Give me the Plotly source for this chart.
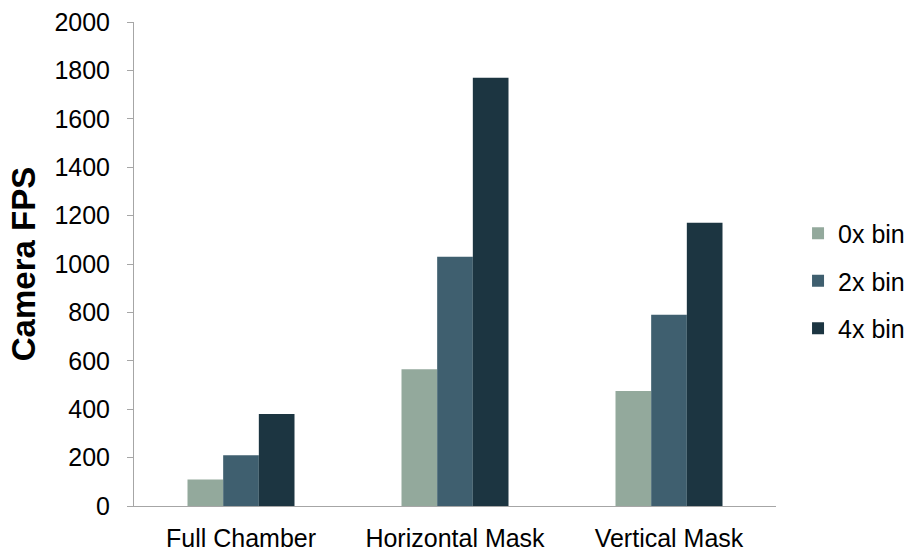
import plotly.graph_objects as go

categories = ["Full Chamber", "Horizontal Mask", "Vertical Mask"]
series_names = ["0x bin", "2x bin", "4x bin"]
bin0 = [110, 565, 475]
bin2 = [210, 1030, 790]
bin4 = [380, 1770, 1170]
colors = ["#93a99c", "#3f5f6f", "#1c3541"]
y_ticks = [0, 200, 400, 600, 800, 1000, 1200, 1400, 1600, 1800, 2000]

fig = go.Figure()
for name, vals, col in zip(series_names, [bin0, bin2, bin4], colors):
    fig.add_trace(go.Bar(
        x=categories, y=vals, name=name, legendgroup=name,
        marker=dict(color=col, line=dict(width=0)),
    ))

font_family = "Liberation Sans, Arial, sans-serif"
fig.update_layout(
    width=911, height=551,
    barmode="group", bargap=0.5, bargroupgap=0,
    plot_bgcolor="white", paper_bgcolor="white",
    margin=dict(l=134, r=135, t=22, b=45, autoexpand=False),
    font=dict(family=font_family, size=25, color="#000000"),
    showlegend=True,
    legend=dict(
        xref="container", yref="container",
        x=0.876, y=0.49, xanchor="left", yanchor="middle",
        font=dict(size=25, color="#000000"),
        traceorder="grouped", tracegroupgap=12,
        bgcolor="rgba(0,0,0,0)",
    ),
    xaxis=dict(
        showline=True, linecolor="#a6a6a6", linewidth=1,
        showgrid=False, ticks="", tickfont=dict(size=25),
        ticklabelstandoff=10, automargin=False,
    ),
    yaxis=dict(
        range=[0, 2000], tickvals=y_ticks,
        showline=True, linecolor="#a6a6a6", linewidth=1,
        showgrid=False, zeroline=False,
        ticks="outside", ticklen=6, tickcolor="#a6a6a6",
        tickfont=dict(size=25), ticklabelstandoff=12, automargin=False,
        title=dict(text="<b>Camera FPS</b>", font=dict(size=33), standoff=8),
    ),
)

fig.write_html("out.html")
